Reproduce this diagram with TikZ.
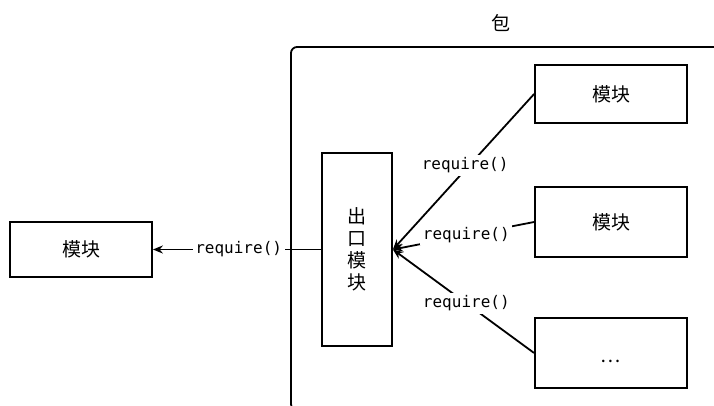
\documentclass[tikz,border=0pt]{standalone}
\usepackage{fontspec}
\newfontfamily\cjk{Noto Sans CJK SC}
\newfontfamily\mono{DejaVu Sans Mono}
\usetikzlibrary{arrows.meta}
\tikzset{
  modbox/.style={draw, line width=1.8pt, inner sep=0pt, font=\cjk\fontsize{19}{22}\selectfont},
  lbl/.style={fill=white, inner sep=2.5pt, font=\mono\fontsize{16}{18}\selectfont},
  conn/.style={line width=1.8pt, -{Stealth[length=10pt,width=8pt]}},
}
\begin{document}
\begin{tikzpicture}[x=1pt,y=-1pt]
\useasboundingbox (0,0) rectangle (714,406);
% package border
\begin{scope}
\clip (0,0) rectangle (714,406);
\draw[line width=1.8pt, rounded corners=6pt] (730,47) -- (291,47) -- (291,410) -- (330,410);
\end{scope}
\node[font=\cjk\fontsize{19}{22}\selectfont] (pkg) at (501,23) {包};
% nodes
\node[modbox, minimum width=142pt, minimum height=55pt] (left) at (81,249.5) {模块};
\node[modbox, minimum width=70pt, minimum height=193pt, align=center] (exp) at (357,249.5) {出\\口\\模\\块};
\node[modbox, minimum width=152pt, minimum height=58pt] (m1) at (611,94) {模块};
\node[modbox, minimum width=152pt, minimum height=70pt] (m2) at (611,222) {模块};
\node[modbox, minimum width=152pt, minimum height=70pt] (m3) at (611,353) {\raisebox{-9pt}[0pt][0pt]{…}};
% connectors
\draw[conn] (exp.west) -- node[lbl, pos=0.49]{require()} (left.east);
\draw[conn] (m1.west) -- node[lbl, pos=0.46, xshift=-4pt]{require()} (exp.east);
\draw[conn] (m2.west) -- node[lbl, pos=0.48]{require()} (exp.east);
\draw[conn] (m3.west) -- node[lbl, pos=0.48]{require()} (exp.east);
\end{tikzpicture}
\end{document}
